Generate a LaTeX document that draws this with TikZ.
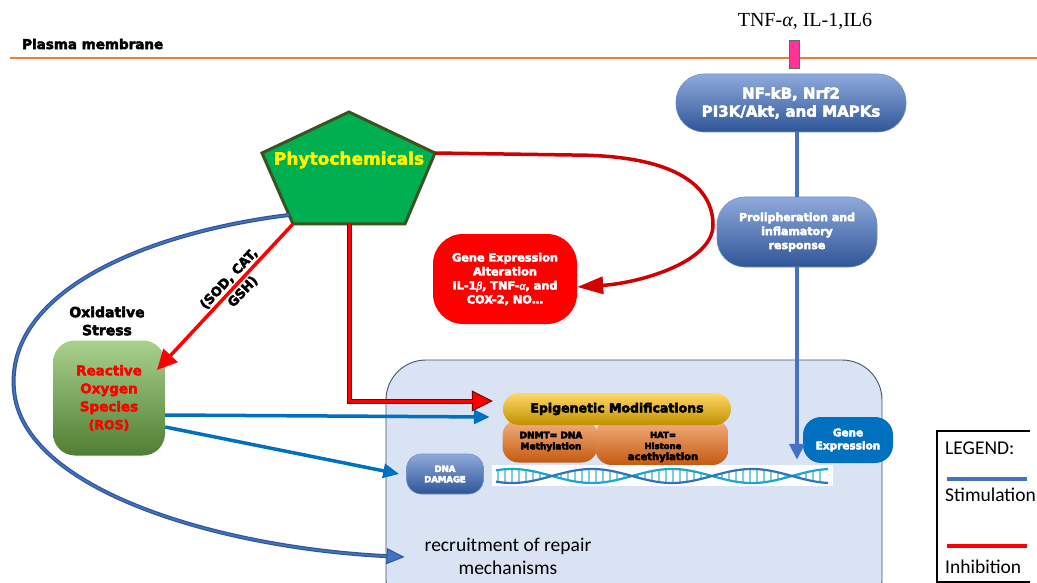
\documentclass[tikz,border=0pt]{standalone}
\usepackage{fontspec}
\setmainfont{Liberation Serif}
\newfontfamily\dvs{DejaVu Sans}
\newfontfamily\carl{Carlito}
\usetikzlibrary{arrows.meta}
\definecolor{memOrange}{HTML}{ED7D31}
\definecolor{recPink}{HTML}{FF3399}
\definecolor{pillTop}{HTML}{8FAADC}
\definecolor{pillBot}{HTML}{2F5597}
\definecolor{geBlue}{HTML}{0070C0}
\definecolor{phyGreen}{HTML}{00B050}
\definecolor{phyEdge}{HTML}{3B5323}
\definecolor{rosTop}{HTML}{A9D18E}
\definecolor{rosBot}{HTML}{507E32}
\definecolor{nucFill}{HTML}{DAE3F3}
\definecolor{nucEdge}{HTML}{44546A}
\definecolor{epiTop}{HTML}{FFD966}
\definecolor{epiBot}{HTML}{BF9000}
\definecolor{orTop}{HTML}{F4B183}
\definecolor{orBot}{HTML}{C55A11}
\definecolor{arrBlue}{HTML}{0070C0}
\definecolor{stimBlue}{HTML}{4472C4}
\definecolor{darkBlue}{HTML}{2F5597}
\definecolor{inhRed}{HTML}{FF0000}
\definecolor{curveRed}{HTML}{D00000}
\definecolor{darkRed}{HTML}{7F0000}
\definecolor{strandA}{HTML}{1AA7C9}
\definecolor{strandB}{HTML}{2E75B6}
\definecolor{rungC}{HTML}{7FCBE3}
\newcommand\heavytext{\special{pdf:literal direct 2 Tr 0.45 w}}
\tikzset{
  heavy/.style={execute at begin node=\heavytext},
  bluepill/.style={top color=pillTop, bottom color=pillBot, draw=pillTop!70!pillBot, line width=0.6pt,
    text=white, align=center, inner sep=0pt, heavy},
  orangebox/.style={top color=orTop, bottom color=orBot, draw=none, align=center, inner sep=0pt,
    rounded corners=16pt},
  stim/.style={color=arrBlue, line width=3.5pt},
  helix/.pic={
    \foreach \x in {498,505,...,826}
      \draw[rungC, line width=1.6pt] (\x,{476+7*sin((\x-552)*2.25)}) -- (\x,{476-7*sin((\x-552)*2.25)});
    \draw[strandA, line width=2.2pt, domain=496:828, samples=160, variable=\t] plot (\t,{476+7*sin((\t-552)*2.25)});
    \draw[strandB, line width=2.2pt, domain=496:828, samples=160, variable=\t] plot (\t,{476-7*sin((\t-552)*2.25)});
  },
}
\begin{document}
\begin{tikzpicture}[x=1pt,y=-1pt]
\useasboundingbox (0,0) rectangle (1037,583);
\clip (0,0) rectangle (1037,583);
\fill[white] (0,0) rectangle (1037,583);

% plasma membrane
\node[anchor=west, inner sep=0pt, heavy, font=\dvs\bfseries\fontsize{13.5}{16}\selectfont] (pm) at (22,44) {Plasma membrane};
\draw[memOrange, line width=2.2pt] (10,58) -- (1037,58);
\node[draw=black!60, fill=recPink, line width=0.8pt, minimum width=10pt, minimum height=28pt, inner sep=0pt] (rec) at (794,54) {};
\node[font=\fontsize{20}{24}\selectfont, inner sep=0pt] (tnf) at (805,21) {TNF-\textit{α}, IL-1,IL6};

% nucleus
\draw[fill=nucFill, draw=nucEdge, line width=0.9pt, rounded corners=40pt] (386,360) rectangle (882,620);

% signalling pills
\node[bluepill, minimum width=230pt, minimum height=58pt, rounded corners=28pt,
  font=\dvs\bfseries\fontsize{15}{18}\selectfont] (nfkb) at (791,103) {NF-kB, Nrf2\\PI3K/Akt, and MAPKs};
\node[bluepill, minimum width=160pt, minimum height=70pt, rounded corners=28pt,
  font=\dvs\bfseries\fontsize{11}{14}\selectfont] (prolif) at (797,232) {Prolipheration and\\inflamatory\\response};

% phytochemicals pentagon
\coordinate (pT) at (349,112);
\coordinate (pL) at (262,153);
\coordinate (pR) at (435,153);
\coordinate (pBL) at (293,224);
\coordinate (pBR) at (405,224);
\coordinate (pB) at (349,224);
\coordinate (pLe) at (289,215);
\filldraw[fill=phyGreen, draw=phyEdge, line width=3pt, line join=miter] (pT) -- (pR) -- (pBR) -- (pBL) -- (pL) -- cycle;
\node[text=yellow, heavy, font=\dvs\bfseries\fontsize{17}{20}\selectfont, inner sep=0pt] (phyto) at (349,160) {Phytochemicals};

% gene expression alteration
\node[fill=inhRed, rounded corners=30pt, minimum width=144pt, minimum height=90pt, text=white, align=center, heavy,
  font=\dvs\bfseries\fontsize{11.3}{14}\selectfont, inner sep=0pt] (gea) at (505,279)
  {Gene Expression\\Alteration\\IL-1{\normalfont\itshape β}, TNF-{\normalfont\itshape α}, and\\COX-2, NO…};

% ROS
\node[font=\dvs\bfseries\fontsize{14}{18}\selectfont, align=center, inner sep=0pt, heavy] (ox) at (107,321) {Oxidative\\Stress};
\node[top color=rosTop, bottom color=rosBot, rounded corners=22pt, minimum width=112pt, minimum height=115pt, heavy,
  text=inhRed, align=center, font=\dvs\bfseries\fontsize{13.5}{18}\selectfont, inner sep=0pt] (ros) at (109,398)
  {Reactive\\Oxygen\\Species\\{\fontsize{12.5}{18}\selectfont(ROS)}};

% nucleus content
\node[fill=white, minimum width=341pt, minimum height=21pt, inner sep=0pt] (dna) at (662.5,475.5) {};
\node[orangebox, minimum width=95pt, minimum height=43pt] (dnmt) at (550,441) {};
\node[font=\dvs\bfseries\fontsize{9}{11}\selectfont, align=center, inner sep=0pt, heavy] (dnmtT) at (551,441.5) {DNMT= DNA\\Methylation};
\node[orangebox, minimum width=133pt, minimum height=46pt] (hat) at (662,442) {};
\node[font=\dvs\bfseries\fontsize{8.5}{11}\selectfont, align=center, inner sep=0pt, heavy] (hatT) at (663,447) {HAT=\\Histone\\{\fontsize{10}{11}\selectfont acethylation}};
\fill[white] (dna.north west) rectangle (dna.south east);
\pic {helix};
\node[top color=epiTop, bottom color=epiBot, rounded corners=16pt, minimum width=228pt, minimum height=32pt, heavy,
  font=\dvs\bfseries\fontsize{12.5}{15}\selectfont, inner sep=0pt] (epi) at (617,409) {Epigenetic Modifications};
\node[bluepill, minimum width=77pt, minimum height=40pt, rounded corners=15pt,
  font=\dvs\bfseries\fontsize{8.5}{10.5}\selectfont] (dnad) at (445,474) {DNA\\DAMAGE};
\node[fill=geBlue, rounded corners=18pt, minimum width=90pt, minimum height=46pt, text=white, align=center, heavy,
  font=\dvs\bfseries\fontsize{10.5}{13}\selectfont, inner sep=0pt] (gexp) at (848,440) {Gene\\Expression};
\node[font=\carl\fontsize{19.5}{23}\selectfont, align=center, inner sep=0pt] (repair) at (508,556) {recruitment of repair\\mechanisms};

% connectors
\draw[stimBlue, line width=4pt] (nfkb.south -| prolif.north) -- (prolif.north);
\coordinate (gtip) at ([yshift=5pt]prolif.south |- dna.north);
\draw[stimBlue, line width=4pt, -{Triangle[length=16pt,width=15pt]}] (prolif.south) -- (gtip);

\coordinate (rosIn) at (157,370);
\draw[inhRed, line width=3.5pt, -{Triangle[length=20pt,width=19pt]}] (pBL) -- (rosIn)
  node[pos=0.42, sloped, heavy, font=\dvs\bfseries\fontsize{13}{19}\selectfont, align=center, text=black, inner sep=0pt] (sod) {(SOD, CAT,\\GSH)};

\draw[curveRed, line width=3.5pt, -{Triangle[length=26pt,width=17pt]}] (pR) -- (572,155)
  .. controls (690,155) and (713,195) .. (713,225)
  .. controls (713,262) and (640,283) .. ([yshift=-8pt]gea.east);

\draw[darkRed, line width=5pt, -{Triangle[length=21pt,width=21pt,line width=1pt,fill=inhRed]}] (pB) |- ([xshift=-10pt,yshift=8pt]epi.west);
\draw[inhRed, line width=3pt, shorten >=19pt] (pB) |- ([xshift=-10pt,yshift=8pt]epi.west);

\draw[stim, -{Triangle[length=16pt,width=14pt]}] ([yshift=-17pt]ros.east) -- ([xshift=-13pt,yshift=-8pt]epi.west);
\draw[stim, -{Triangle[length=16pt,width=14pt]}] ([yshift=-29pt]ros.east) -- ([xshift=-7pt]dnad.west);

\coordinate (recIn) at ([xshift=-20pt,yshift=-1pt]repair.north west |- repair.west);
\draw[darkBlue, line width=4pt, -{Triangle[length=18pt,width=16pt,line width=1pt,fill=stimBlue]}] (pLe)
  .. controls (150,232) and (5,290) .. (14,390)
  .. controls (22,490) and (220,548) .. (recIn);
\draw[stimBlue, line width=1.6pt, shorten >=18pt] (pLe)
  .. controls (150,232) and (5,290) .. (14,390)
  .. controls (22,490) and (220,548) .. (recIn);

% legend
\draw[black, line width=1.6pt] (1030,431) -- (937,431) -- (937,582) -- (1030,582);
\node[anchor=west, inner sep=0pt, font=\carl\fontsize{19.5}{23}\selectfont] (legT) at (945,448) {LEGEND:};
\draw[stimBlue, line width=4pt] (947,479) -- (1027,479);
\node[anchor=west, inner sep=0pt, font=\carl\fontsize{19.5}{23}\selectfont] (legS) at (945,495) {Stimulation};
\draw[inhRed, line width=4pt] (947,546) -- (1027,546);
\node[anchor=west, inner sep=0pt, font=\carl\fontsize{19.5}{23}\selectfont] (legI) at (945,567) {Inhibition};
\end{tikzpicture}
\end{document}
